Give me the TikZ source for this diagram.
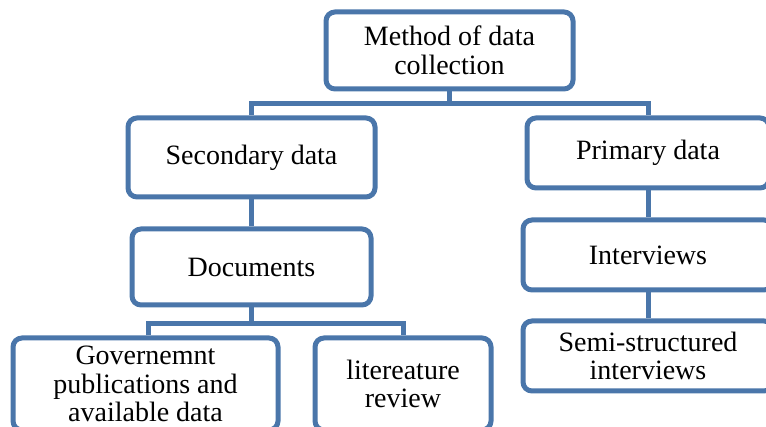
\documentclass[tikz,border=0pt]{standalone}
\usepackage{fontspec}
\setmainfont{Liberation Serif}
\definecolor{boxblue}{RGB}{74,118,170}
\begin{document}
\begin{tikzpicture}[x=1pt,y=-1pt,
  box/.style={draw=boxblue, line width=5pt, rounded corners=9pt, fill=white,
    inner sep=0pt, align=center, font=\fontsize{28}{28.5}\selectfont},
  link/.style={draw=boxblue, line width=5pt}]
\useasboundingbox (0,0) rectangle (766,427);
\clip (0,0) rectangle (766,427);
\node[box, minimum width=247pt, minimum height=77pt] (top) at (449.5,50.5) {Method of data\\collection};
\node[box, minimum width=247pt, minimum height=79pt] (sec) at (251.5,157.5) {Secondary data};
\node[box, minimum width=239pt, minimum height=76pt] (doc) at (251.5,267) {Documents};
\node[box, minimum width=265pt, minimum height=92pt] (gov) at (145.5,384) {Governemnt\\publications and\\available data};
\node[box, minimum width=176pt, minimum height=92pt] (lit) at (403,384) {litereature\\review};
\node[box, minimum width=242pt, minimum height=70pt] (pri) at (648,153) {Primary data};
\node[box, minimum width=250pt, minimum height=70pt] (int) at (648,255) {Interviews};
\node[box, minimum width=250pt, minimum height=70pt] (semi) at (648,356) {Semi-structured\\interviews};
\coordinate (bar1) at (449.5,103.5);
\coordinate (bar2) at (251.5,324);
\draw[link] (top.south) -- (bar1);
\draw[link] (sec.north) |- (bar1) -| (pri.north);
\draw[link] (sec.south) -- (doc.north);
\draw[link] (doc.south) -- (bar2);
\draw[link] ([xshift=2.5pt]gov.north) |- (bar2) -| (lit.north);
\draw[link] (pri.south) -- (int.north);
\draw[link] (int.south) -- (semi.north);
\end{tikzpicture}
\end{document}
